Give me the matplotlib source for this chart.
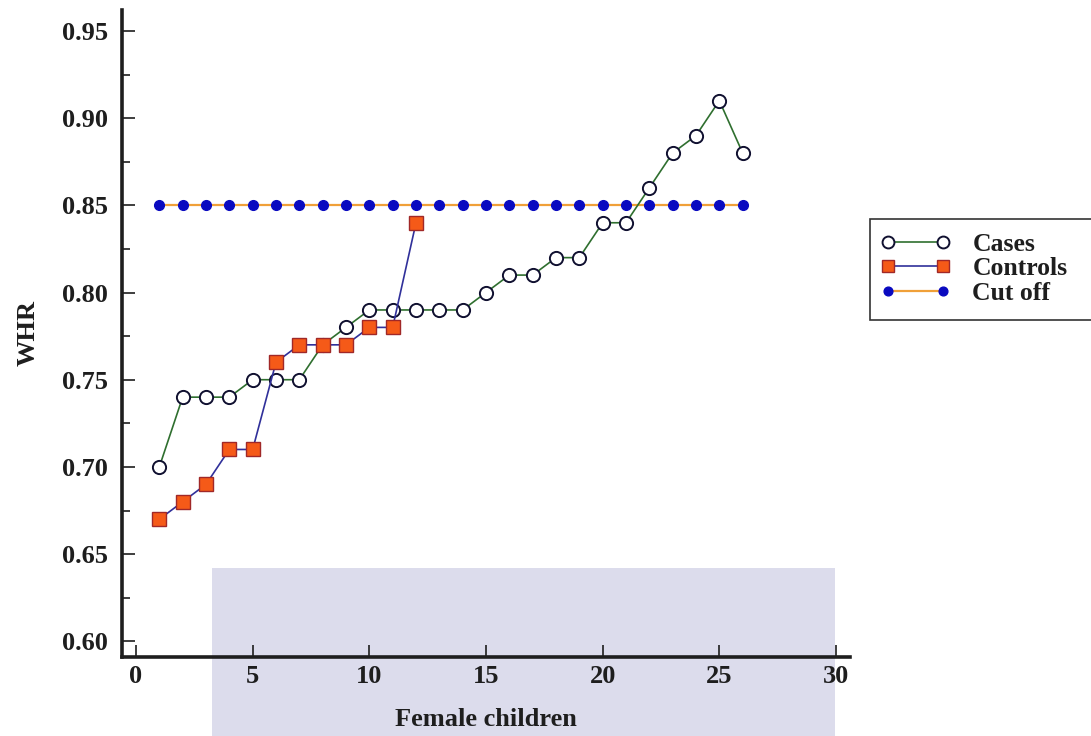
import matplotlib
matplotlib.use("Agg")
import matplotlib.pyplot as plt
from matplotlib.patches import Rectangle
from matplotlib.ticker import MultipleLocator

cases_x = list(range(1, 27))
cases_y = [0.70, 0.74, 0.74, 0.74, 0.75, 0.75, 0.75, 0.77, 0.78, 0.79, 0.79, 0.79, 0.79,
           0.79, 0.80, 0.81, 0.81, 0.82, 0.82, 0.84, 0.84, 0.86, 0.88, 0.89, 0.91, 0.88]
controls_x = list(range(1, 13))
controls_y = [0.67, 0.68, 0.69, 0.71, 0.71, 0.76, 0.77, 0.77, 0.77, 0.78, 0.78, 0.84]
cutoff_x = list(range(1, 27))
cutoff_y = [0.85] * 26

x_ticks = [0, 5, 10, 15, 20, 25, 30]
y_ticks = [0.60, 0.65, 0.70, 0.75, 0.80, 0.85, 0.90, 0.95]

plt.rcParams['font.family'] = ['Liberation Serif', 'DejaVu Serif']
plt.rcParams['font.weight'] = 'bold'

W, H = 1091, 736
fig = plt.figure(figsize=(W / 100, H / 100), dpi=100)
fig.patch.set_facecolor('white')

# watermark-like background rectangle
fig.patches.append(Rectangle((212 / W, 0), (835 - 212) / W, (H - 568) / H,
                             transform=fig.transFigure, facecolor='#dcdcec',
                             edgecolor='none', zorder=-5))

ax = fig.add_axes([122 / W, 1 - 657 / H, (850 - 122) / W, (657 - 10) / H])
ax.set_zorder(2)
ax.patch.set_alpha(0)

ink = '#1e1e1e'
ax.plot(cutoff_x, cutoff_y, color='#f0a038', lw=1.6, marker='o', ms=7,
        mfc='#0a0ac0', mec='#0a0ac0', label='Cut off', zorder=3)
ax.plot(cases_x, cases_y, color='#2f6f2f', lw=1.2, marker='o', ms=9.5,
        mfc='white', mec='#101030', mew=1.4, label='Cases', zorder=4)
ax.plot(controls_x, controls_y, color='#30309a', lw=1.2, marker='s', ms=9.5,
        mfc='#f55a18', mec='#a02828', mew=1.0, label='Controls', zorder=5)

ax.set_xlim(-0.6, 30.6)
ax.set_ylim(0.591, 0.962)
ax.set_xticks(x_ticks)
ax.set_yticks(y_ticks)
ax.set_yticklabels([f"{v:.2f}" for v in y_ticks])
ax.yaxis.set_minor_locator(MultipleLocator(0.025))

for s in ['top', 'right']:
    ax.spines[s].set_visible(False)
for s in ['left', 'bottom']:
    ax.spines[s].set_linewidth(2.6)
    ax.spines[s].set_color(ink)

ax.tick_params(axis='both', which='major', direction='in', length=9, width=1.2,
               labelsize=19, colors=ink)
ax.tick_params(axis='y', which='minor', direction='in', length=6, width=1.2, colors=ink)
ax.tick_params(axis='x', pad=6)
ax.tick_params(axis='y', pad=10)
for lbl in ax.get_xticklabels() + ax.get_yticklabels():
    lbl.set_fontweight('bold')

ax.set_xlabel('Female children', fontsize=19, fontweight='bold', color=ink, labelpad=14)
ax.set_ylabel('WHR', fontsize=19, fontweight='bold', color=ink, labelpad=16)

handles, labels = ax.get_legend_handles_labels()
order = [1, 2, 0]
leg = fig.legend([handles[i] for i in order], [labels[i] for i in order],
                 loc='upper left', bbox_to_anchor=(862 / W, 1 - 215 / H),
                 fontsize=18.5, frameon=False, numpoints=2,
                 handlelength=2.75, borderpad=0.2, labelspacing=0.05, handletextpad=0.85,
                 markerscale=0.9)
for t in leg.get_texts():
    t.set_fontweight('bold')
    t.set_color(ink)

# legend frame extending past the right edge, as in the source
fig.patches.append(Rectangle((870 / W, 1 - 320 / H), 240 / W, (320 - 219) / H,
                             transform=fig.transFigure, facecolor='white',
                             edgecolor='#333333', lw=1.2, zorder=1))

fig.savefig('out.png', dpi=100)
